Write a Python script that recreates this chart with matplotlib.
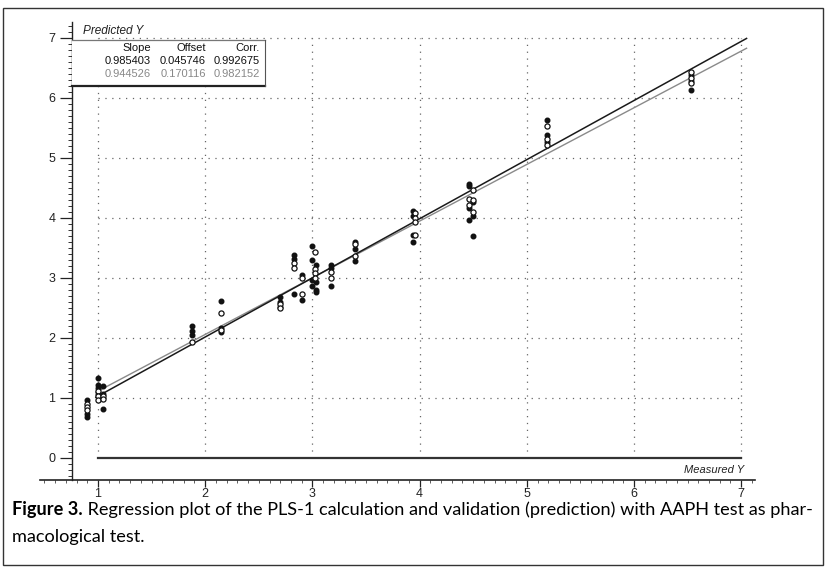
import matplotlib
matplotlib.use("Agg")
import matplotlib.pyplot as plt
from matplotlib.patches import Rectangle
from matplotlib.ticker import MultipleLocator

# ===== Data =================================================================
# calibration samples (filled dots)
cal_x = [0.90, 0.90, 0.90,
         1.00, 1.00, 1.00, 1.00,
         1.05, 1.05, 1.05,
         1.88, 1.88, 1.88,
         2.15, 2.15, 2.15,
         2.70, 2.70, 2.70,
         2.83, 2.83, 2.83,
         2.90, 2.90,
         3.00, 3.00, 3.00, 3.00, 3.03, 3.03, 3.03, 3.03,
         3.17, 3.17, 3.17,
         3.40, 3.40, 3.40,
         3.94, 3.94, 3.94, 3.94,
         4.465, 4.465, 4.465, 4.465,
         4.50, 4.50, 4.50,
         5.19, 5.19, 5.19,
         6.53, 6.53, 6.53]
cal_y = [0.97, 0.73, 0.69,
         1.34, 1.22, 1.16, 1.07,
         1.20, 1.07, 0.82,
         2.20, 2.12, 2.05,
         2.62, 2.16, 2.10,
         2.68, 2.60, 2.52,
         3.38, 3.32, 2.73,
         3.05, 2.63,
         3.53, 3.30, 2.97, 2.86, 3.21, 2.94, 2.80, 2.76,
         3.22, 3.17, 2.87,
         3.60, 3.48, 3.28,
         4.12, 4.04, 3.72, 3.60,
         4.56, 4.53, 4.16, 3.97,
         4.26, 4.04, 3.70,
         5.64, 5.39, 5.26,
         6.38, 6.28, 6.13]

# validation / prediction samples (open circles)
val_x = [0.90, 0.90, 0.90,
         1.00, 1.00, 1.00,
         1.05, 1.05,
         1.88,
         2.15, 2.15,
         2.70, 2.70,
         2.83, 2.83,
         2.90, 2.90,
         3.02, 3.02, 3.02, 3.02,
         3.17, 3.17,
         3.40, 3.40,
         3.96, 3.96, 3.96, 3.96,
         4.465, 4.465,
         4.50, 4.50, 4.50,
         5.19, 5.19, 5.19,
         6.53, 6.53, 6.53]
val_y = [0.90, 0.85, 0.80,
         1.12, 1.03, 0.96,
         1.03, 0.99,
         1.93,
         2.42, 2.13,
         2.56, 2.50,
         3.25, 3.17,
         3.00, 2.73,
         3.44, 3.15, 3.08, 3.00,
         3.10, 3.00,
         3.57, 3.36,
         4.08, 4.00, 3.93, 3.72,
         4.32, 4.21,
         4.47, 4.30, 4.10,
         5.53, 5.31, 5.22,
         6.43, 6.33, 6.25]

# regression lines: [calibration, validation]
table_cols = ["Slope", "Offset", "Corr."]
slopes = [0.985403, 0.944526]
offsets = [0.045746, 0.170116]
corrs = [0.992675, 0.982152]
line_x = [0.98, 7.05]

grid_ticks = [1, 2, 3, 4, 5, 6, 7]

caption_bold = "Figure 3."
caption_line1 = " Regression plot of the PLS-1 calculation and validation (prediction) with AAPH test as phar-"
caption_line2 = "macological test."

# ===== Layout ================================================================
W, H = 826, 569
X1_PX, X_SCALE = 98.0, 107.2      # pixel of x=1 and pixels per unit


def px_x(px):
    return 1 + (px - X1_PX) / X_SCALE


def px_y(py):
    return (458.0 - py) / 60.0


plt.rcParams['font.family'] = ['Liberation Sans', 'DejaVu Sans']
fig = plt.figure(figsize=(W / 100, H / 100), dpi=100)
fig.patch.set_facecolor('white')

ax_left, ax_right = 40, 755
ax = fig.add_axes([ax_left / W, 1 - 480 / H, (ax_right - ax_left) / W, 458 / H])
ax.set_xlim(px_x(ax_left), px_x(ax_right))
ax.set_ylim(px_y(480), px_y(22))

spine_x = px_x(72)
for s in ['top', 'right']:
    ax.spines[s].set_visible(False)
ax.spines['left'].set_position(('data', spine_x))
ax.spines['left'].set_color('#222222')
ax.spines['bottom'].set_color('#222222')
ax.spines['left'].set_linewidth(1.0)
ax.spines['bottom'].set_linewidth(1.2)

ax.xaxis.set_minor_locator(MultipleLocator(0.1))
ax.yaxis.set_minor_locator(MultipleLocator(0.1))
ax.set_xticks(grid_ticks)
ax.set_yticks([0] + grid_ticks)
ax.tick_params(axis='y', which='major', direction='out', length=8.5, width=0.9,
               pad=3.5, labelsize=9, colors='#222222')
ax.tick_params(axis='y', which='minor', direction='out', length=3, width=0.7, colors='#333333')
ax.tick_params(axis='x', which='major', direction='out', length=5, width=0.9,
               pad=0.5, labelsize=9, colors='#222222')
ax.tick_params(axis='x', which='minor', direction='out', length=2, width=0.6, colors='#444444')

# dotted grid inside [1,7] x [0,7]
ax.vlines(grid_ticks, 0, 7, colors='#666666', linestyles=(0, (1, 4.5)), linewidth=0.9, zorder=1)
ax.hlines(grid_ticks, 1, 7, colors='#666666', linestyles=(0, (1, 4.5)), linewidth=0.9, zorder=1)
ax.plot([1, 7], [0, 0], color='#333333', lw=1.6, zorder=2)

# regression lines
cal_line = [slopes[0] * v + offsets[0] for v in line_x]
val_line = [slopes[1] * v + offsets[1] for v in line_x]
ax.plot(line_x, val_line, color='#8a8a8a', lw=1.0, zorder=3)
ax.plot(line_x, cal_line, color='#1a1a1a', lw=1.1, zorder=3)

# samples
ax.plot(cal_x, cal_y, 'o', ms=3.3, color='#111111', mec='#111111', zorder=4)
ax.plot(val_x, val_y, 'o', ms=3.7, mfc='white', mec='#111111', mew=0.9, zorder=5)

# statistics box, top left
box_r, box_t, box_b = px_x(265), px_y(40), px_y(86)
ax.add_patch(Rectangle((spine_x, box_b), box_r - spine_x, box_t - box_b, facecolor='white',
                       edgecolor='none', zorder=6))
ax.plot([spine_x, box_r], [box_t, box_t], color='#777777', lw=0.9, zorder=7)
ax.plot([spine_x, box_r], [box_b, box_b], color='#222222', lw=1.6, zorder=7)
ax.plot([box_r, box_r], [box_b, box_t], color='#555555', lw=0.8, zorder=7)

col_x = [px_x(151), px_x(206), px_x(260)]
rows = [(table_cols, '#111111'),
        (["%.6f" % v for v in (slopes[0], offsets[0], corrs[0])], '#111111'),
        (["%.6f" % v for v in (slopes[1], offsets[1], corrs[1])], '#888888')]
for (cells, colour), py in zip(rows, [48, 61, 74]):
    for cx, cell in zip(col_x, cells):
        ax.text(cx, px_y(py), cell, ha='right', va='center', fontsize=8,
                color=colour, zorder=8)

ax.text(px_x(83), px_y(31), "Predicted Y", style='italic', fontsize=8.5,
        ha='left', va='center', color='#222222')
ax.text(px_x(744), px_y(470), "Measured Y", style='italic', fontsize=8,
        ha='right', va='center', color='#222222')

# caption, fitted to the width of the first line
cap_font = ['Lato', 'DejaVu Sans']
fs = 13.5
t_bold = fig.text(12 / W, 1 - 510 / H, caption_bold, fontsize=fs, fontweight='bold',
                  family=cap_font, va='center', ha='left')
t_rest = fig.text(0, 1 - 510 / H, caption_line1, fontsize=fs, family=cap_font,
                  va='center', ha='left')
fig.canvas.draw()
r = fig.canvas.get_renderer()
total = t_bold.get_window_extent(r).width + t_rest.get_window_extent(r).width
fs = fs * 803.0 / total
t_bold.set_fontsize(fs)
t_rest.set_fontsize(fs)
fig.canvas.draw()
t_rest.set_x(t_bold.get_window_extent(r).x1 / W)
fig.text(12 / W, 1 - 537 / H, caption_line2, fontsize=fs, family=cap_font,
         va='center', ha='left')

# outer frame
fig.patches.append(Rectangle((3 / W, 1 - 565 / H), 820 / W, 557 / H, transform=fig.transFigure,
                             fill=False, edgecolor='#333333', lw=1.0))

fig.savefig("out.png", dpi=100, facecolor='white')
